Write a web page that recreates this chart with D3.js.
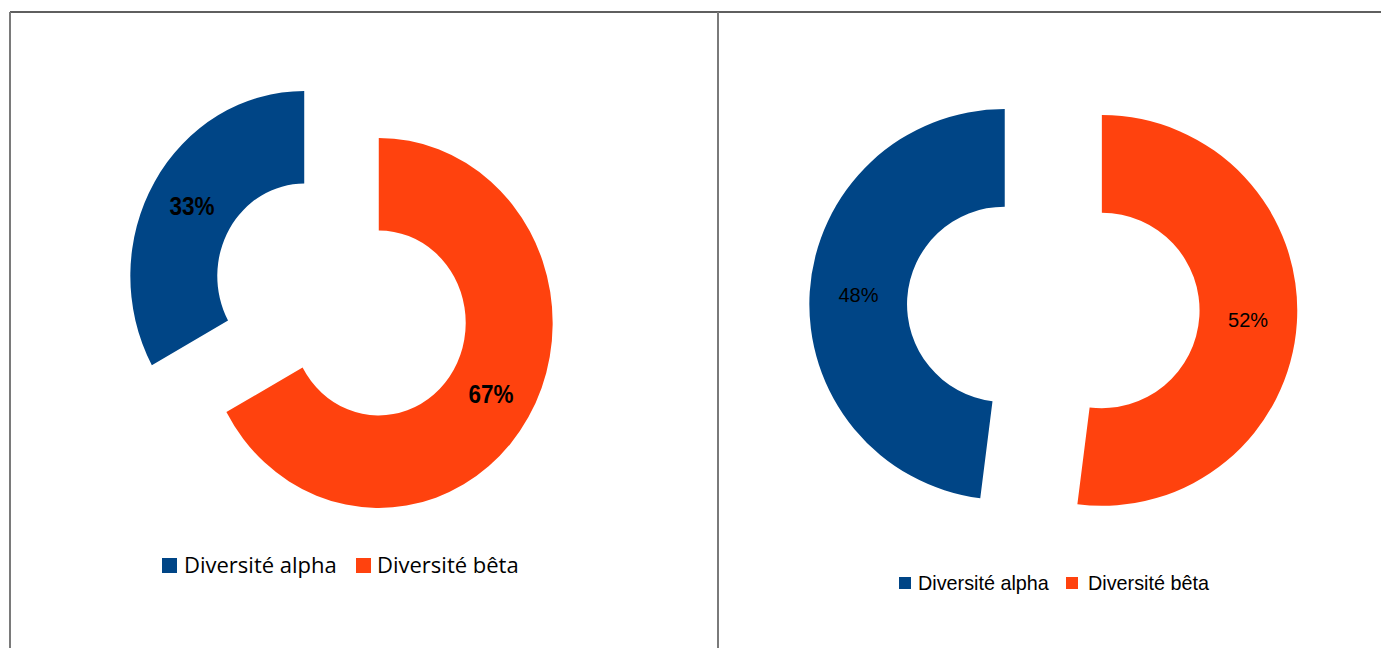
<!DOCTYPE html>
<html>
<head>
<meta charset="utf-8">
<script src="https://cdn.jsdelivr.net/npm/d3@7"></script>
<style>
  html, body { margin: 0; padding: 0; background: #fff; }
  svg { display: block; }
</style>
</head>
<body>
<svg id="chart" width="1381" height="648"></svg>
<script>
// ---- data ----
const categories = ["Diversité alpha", "Diversité bêta"];
const valuesLeft = [33, 67];
const valuesRight = [48, 52];
const labelsLeft = ["33%", "67%"];
const labelsRight = ["48%", "52%"];
const seriesColors = ["#004586", "#ff420e"];

const svg = d3.select("#chart");
const color = d3.scaleOrdinal().domain(categories).range(seriesColors);

// frame lines
svg.append("line").attr("x1", 10).attr("x2", 1381).attr("y1", 12).attr("y2", 12)
  .attr("stroke", "#2a2a2a").attr("stroke-width", 1.5);
svg.append("line").attr("x1", 10).attr("x2", 10).attr("y1", 12).attr("y2", 648)
  .attr("stroke", "#7a7a7a").attr("stroke-width", 2);
svg.append("line").attr("x1", 718).attr("x2", 718).attr("y1", 12).attr("y2", 648)
  .attr("stroke", "#7a7a7a").attr("stroke-width", 2);

// counter-clockwise from top, like the original
const pie = d3.pie().sort(null).value(d => d.v)
  .startAngle(0).endAngle(-2 * Math.PI);

function donut(opts) {
  const data = categories.map((c, i) => ({ c, v: opts.values[i], label: opts.labels[i] }));
  const arcs = pie(data);
  const R = opts.radius, r = R * 0.5, off = R * 0.249;
  const arc = d3.arc().innerRadius(r).outerRadius(R);
  const g = svg.append("g")
    .attr("transform", `translate(${opts.cx},${opts.cy}) scale(${opts.sx},1)`);
  const offs = arcs.map(a => {
    const m = (a.startAngle + a.endAngle) / 2;
    return [off * Math.sin(m), -off * Math.cos(m)];
  });
  g.selectAll("path").data(arcs).join("path")
    .attr("d", arc)
    .attr("transform", (d, i) => `translate(${offs[i][0]},${offs[i][1]})`)
    .attr("fill", d => color(d.data.c));
  arcs.forEach((a, i) => {
    const c = arc.centroid(a);
    const x = opts.cx + (c[0] + offs[i][0]) * opts.sx;
    const y = opts.cy + (c[1] + offs[i][1]);
    const t = svg.append("text")
      .attr("x", x).attr("y", y).attr("dy", "0.36em")
      .attr("text-anchor", "middle")
      .attr("font-family", "'Liberation Sans', Arial, sans-serif")
      .attr("font-size", opts.labelSize)
      .attr("font-weight", opts.bold ? "bold" : "normal")
      .attr("fill", "#000")
      .text(a.data.label);
    if (opts.labelWidth) {
      t.attr("textLength", opts.labelWidth).attr("lengthAdjust", "spacingAndGlyphs");
    }
  });
}

donut({ cx: 341.5, cy: 299.5, sx: 0.94, radius: 185, values: valuesLeft, labels: labelsLeft,
        labelSize: 26, bold: true, labelWidth: 45 });
donut({ cx: 1053.3, cy: 307.4, sx: 1, radius: 195.4, values: valuesRight, labels: labelsRight,
        labelSize: 20, bold: false });

// legends
function legend(items) {
  items.forEach(it => {
    svg.append("rect").attr("x", it.sx).attr("y", it.sy)
      .attr("width", it.size).attr("height", it.size).attr("fill", color(it.c));
    svg.append("text").attr("x", it.tx).attr("y", it.ty)
      .attr("font-family", it.font).attr("font-size", it.fs).attr("fill", "#000")
      .text(it.c);
  });
}
legend([
  { c: categories[0], sx: 162, sy: 558, size: 15, tx: 184, ty: 573, font: "'Open Sans', sans-serif", fs: 22 },
  { c: categories[1], sx: 356, sy: 558, size: 15, tx: 377, ty: 573, font: "'Open Sans', sans-serif", fs: 22 }
]);
legend([
  { c: categories[0], sx: 899, sy: 577, size: 12, tx: 918, ty: 589.5, font: "'Liberation Sans', Arial, sans-serif", fs: 19.8 },
  { c: categories[1], sx: 1066, sy: 577, size: 12, tx: 1088, ty: 589.5, font: "'Liberation Sans', Arial, sans-serif", fs: 19.8 }
]);
</script>
</body>
</html>
